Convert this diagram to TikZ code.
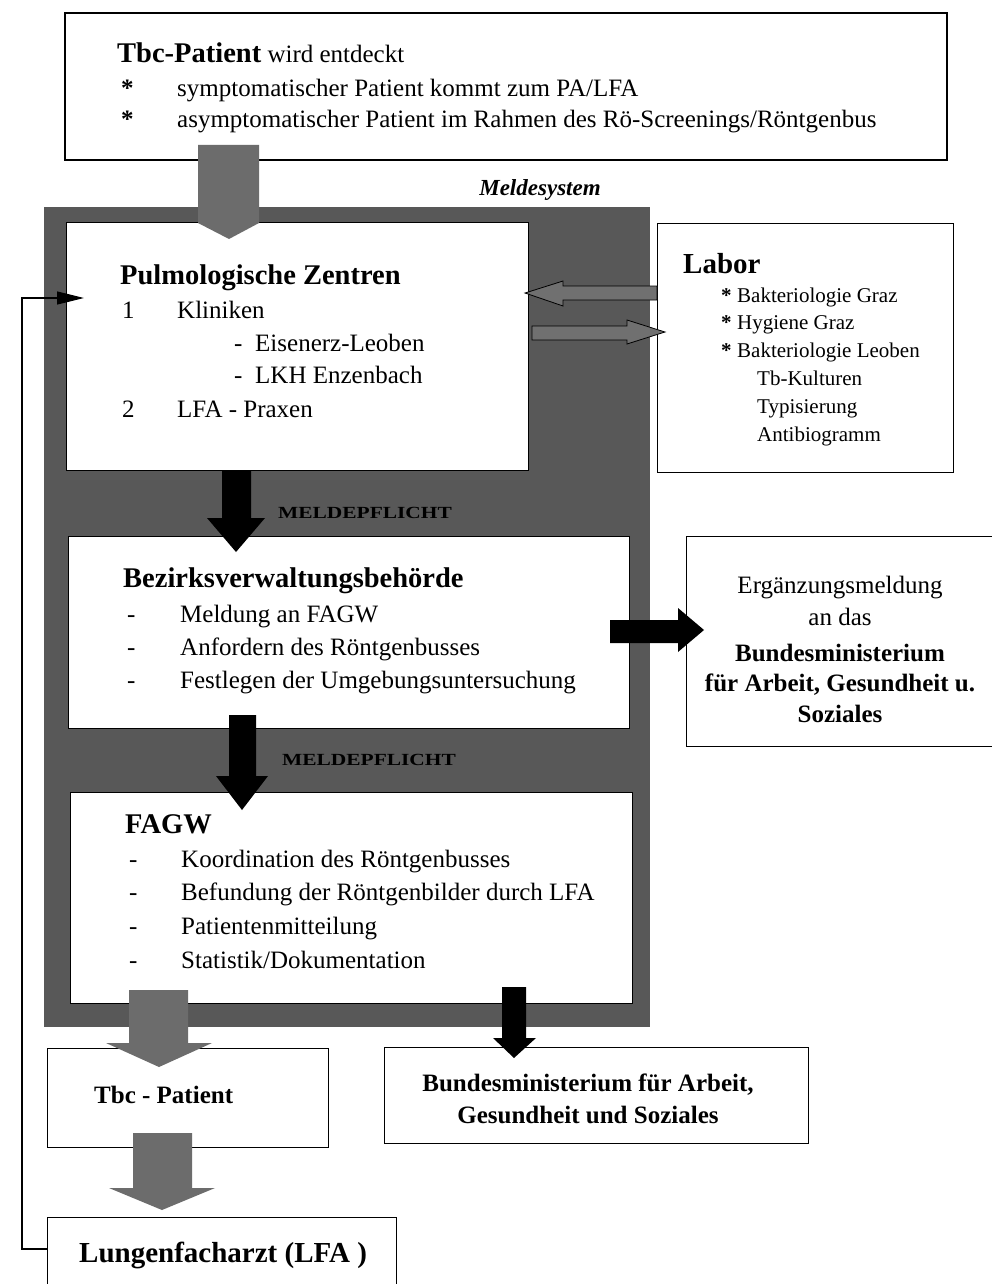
\documentclass[tikz,border=0pt]{standalone}
\usepackage{fontspec}
\setmainfont{Liberation Serif}
\usetikzlibrary{arrows.meta}
\definecolor{framegray}{RGB}{88,88,88}
\definecolor{arrowgray}{RGB}{108,108,108}
\definecolor{dblgray}{RGB}{112,112,112}
\newcommand\fsreg{\fontsize{25}{30}\selectfont}
\newcommand\fshead{\fontsize{28.5}{34}\selectfont\bfseries}
\newcommand\fslab{\fontsize{21}{25}\selectfont}
\newcommand\fsmp{\fontsize{17}{20}\selectfont\bfseries}
\begin{document}
\begin{tikzpicture}[x=1pt,y=-1pt,
  box/.style={draw=black,line width=1.4pt,fill=white,rectangle,inner sep=0pt,anchor=north west},
  txt/.style={anchor=base west,inner sep=0pt},
  ctxt/.style={anchor=base,inner sep=0pt},
  blk/.style={fill=black},
  gry/.style={fill=arrowgray},
  dbl/.style={fill=dblgray,draw=black,line width=0.8pt},
  fb/.style={draw=black,line width=1.2pt,-{Triangle[length=27pt,width=13pt]}}]
\useasboundingbox (0,0) rectangle (991,1284);
\fill[white] (0,0) rectangle (991,1284);

% top box
\node[box,line width=1.8pt,minimum width=882pt,minimum height=147pt] (top) at (64,12) {};
\node[txt] (t1) at (117,63) {\fshead Tbc-Patient\fsreg\mdseries{} wird entdeckt};
\node[txt] (b1) at (121,97) {\fsreg\bfseries *};
\node[txt] (t2) at (177,97) {\fsreg symptomatischer Patient kommt zum PA/LFA};
\node[txt] (b2) at (121,128) {\fsreg\bfseries *};
\node[txt] (t3) at (177,128) {\fsreg asymptomatischer Patient im Rahmen des Rö-Screenings/Röntgenbus};

% Meldesystem frame
\node[ctxt] (mtitle) at (540,196) {\fontsize{23}{28}\selectfont\bfseries\itshape Meldesystem};
\node[rectangle,fill=framegray,inner sep=0pt,anchor=north west,minimum width=606pt,minimum height=820pt] (melde) at (44,207) {};

% Pulmologische Zentren
\node[box,minimum width=462pt,minimum height=248pt] (pulm) at (66,222) {};
\node[txt] (p0) at (120,284) {\fshead Pulmologische Zentren};
\node[txt] (p1n) at (122,318) {\fsreg 1};
\node[txt] (p1) at (177,318) {\fsreg Kliniken};
\node[txt] (p2d) at (234,351) {\fsreg -};
\node[txt] (p2) at (255,351) {\fsreg Eisenerz-Leoben};
\node[txt] (p3d) at (234,383) {\fsreg -};
\node[txt] (p3) at (255,383) {\fsreg LKH Enzenbach};
\node[txt] (p4n) at (122,417) {\fsreg 2};
\node[txt] (p4) at (177,417) {\fsreg LFA - Praxen};

% gray arrow from top box into Pulm
\fill[gry] (198,145) -- (259,145) -- (259,223) -- (229,239) -- (198,223) -- cycle;

% Labor
\node[box,minimum width=296pt,minimum height=249pt] (labor) at (657,223) {};
\node[txt] (l0) at (683,273) {\fontsize{29}{34}\selectfont\bfseries Labor};
\node[txt] (l1b) at (721,302) {\fslab\bfseries *};
\node[txt] (l1) at (737,302) {\fslab Bakteriologie Graz};
\node[txt] (l2b) at (721,329) {\fslab\bfseries *};
\node[txt] (l2) at (737,329) {\fslab Hygiene Graz};
\node[txt] (l3b) at (721,357) {\fslab\bfseries *};
\node[txt] (l3) at (737,357) {\fslab Bakteriologie Leoben};
\node[txt] (l4) at (757,385) {\fslab Tb-Kulturen};
\node[txt] (l5) at (757,413) {\fslab Typisierung};
\node[txt] (l6) at (757,441) {\fslab Antibiogramm};

% double arrows Pulm <-> Labor
\draw[dbl] (657,286) -- (563,286) -- (563,281) -- (525,293) -- (563,306) -- (563,300) -- (657,300) -- cycle;
\draw[dbl] (532,326) -- (627,326) -- (627,320) -- (665,332) -- (627,344) -- (627,340) -- (532,340) -- cycle;

% Meldepflicht 1
\node[ctxt] (mp1) at (365,518) {\fsmp\scalebox{1.26}[1]{MELDEPFLICHT}};

% Bezirksverwaltungsbehoerde
\node[box,minimum width=561pt,minimum height=192pt] (bez) at (68,536) {};
\fill[blk] (222,470) -- (251,470) -- (251,518) -- (265,518) -- (236,552) -- (207,518) -- (222,518) -- cycle;
\node[txt] (z0) at (123,587) {\fshead Bezirksverwaltungsbehörde};
\node[txt] (z1d) at (127,622) {\fsreg -};
\node[txt] (z1) at (180,622) {\fsreg Meldung an FAGW};
\node[txt] (z2d) at (127,655) {\fsreg -};
\node[txt] (z2) at (180,655) {\fsreg Anfordern des Röntgenbusses};
\node[txt] (z3d) at (127,688) {\fsreg -};
\node[txt] (z3) at (180,688) {\fsreg Festlegen der Umgebungsuntersuchung};

% Ergaenzungsmeldung
\node[box,minimum width=320pt,minimum height=210pt] (erg) at (686,536) {};
\node[ctxt] (e1) at (840,593) {\fsreg Ergänzungsmeldung};
\node[ctxt] (e2) at (840,625) {\fsreg an das};
\node[ctxt] (e3) at (840,661) {\fsreg\bfseries Bundesministerium};
\node[ctxt] (e4) at (840,691) {\fsreg\bfseries für Arbeit, Gesundheit u.};
\node[ctxt] (e5) at (840,722) {\fsreg\bfseries Soziales};
\fill[blk] (610,620) -- (678,620) -- (678,608) -- (704,630) -- (678,652) -- (678,643) -- (610,643) -- cycle;

% Meldepflicht 2
\node[ctxt] (mp2) at (369,765) {\fsmp\scalebox{1.26}[1]{MELDEPFLICHT}};

% FAGW
\node[box,minimum width=562pt,minimum height=211pt] (fagw) at (70,792) {};
\fill[blk] (229,715) -- (256,715) -- (256,776) -- (268,776) -- (242,810) -- (216,776) -- (229,776) -- cycle;
\node[txt] (f0) at (125,833) {\fshead FAGW};
\node[txt] (f1d) at (129,867) {\fsreg -};
\node[txt] (f1) at (181,867) {\fsreg Koordination des Röntgenbusses};
\node[txt] (f2d) at (129,900) {\fsreg -};
\node[txt] (f2) at (181,900) {\fsreg Befundung der Röntgenbilder durch LFA};
\node[txt] (f3d) at (129,934) {\fsreg -};
\node[txt] (f3) at (181,934) {\fsreg Patientenmitteilung};
\node[txt] (f4d) at (129,968) {\fsreg -};
\node[txt] (f4) at (181,968) {\fsreg Statistik/Dokumentation};

% bottom boxes
\node[box,minimum width=281pt,minimum height=99pt] (tbc) at (47,1048) {};
\node[txt] (tb) at (94,1103) {\fsreg\bfseries Tbc - Patient};
\node[box,minimum width=424pt,minimum height=96pt] (bm) at (384,1047) {};
\node[ctxt] (bm1) at (588,1091) {\fsreg\bfseries Bundesministerium für Arbeit,};
\node[ctxt] (bm2) at (588,1123) {\fsreg\bfseries Gesundheit und Soziales};
\node[box,minimum width=349pt,minimum height=100pt] (lfa) at (47,1217) {};
\node[txt] (lf) at (79,1262) {\fontsize{29}{34}\selectfont\bfseries Lungenfacharzt (LFA )};

% arrows to bottom boxes
\fill[gry] (129,990) -- (188,990) -- (188,1043) -- (212,1043) -- (159,1067) -- (106,1043) -- (129,1043) -- cycle;
\fill[blk] (502,987) -- (526,987) -- (526,1038) -- (536,1038) -- (514,1058) -- (493,1038) -- (502,1038) -- cycle;
\fill[gry] (133,1133) -- (192,1133) -- (192,1188) -- (215,1188) -- (162,1210) -- (109,1188) -- (133,1188) -- cycle;

% feedback line
\coordinate (fbstart) at (47,1249);
\coordinate (fbend) at (84,298);
\draw[fb] (fbstart) -- (22,1249) -- (22,298) -- (fbend);
\end{tikzpicture}
\end{document}
